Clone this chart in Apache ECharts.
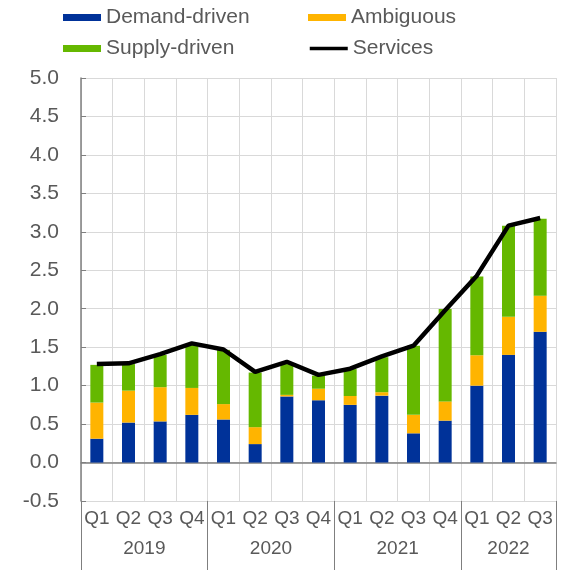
<!DOCTYPE html>
<html>
<head>
<meta charset="utf-8">
<script src="https://cdn.jsdelivr.net/npm/echarts@6/dist/echarts.min.js"></script>
<style>
  html, body { margin: 0; padding: 0; background: #fff; }
  #main { width: 568px; height: 570px; }
</style>
</head>
<body>
<div id="main"></div>
<script>
// quarters and years on the x axis
const quarters = ["Q1", "Q2", "Q3", "Q4", "Q1", "Q2", "Q3", "Q4", "Q1", "Q2", "Q3", "Q4", "Q1", "Q2", "Q3"];
const years = ["2019", "2020", "2021", "2022"];
const quartersPerYear = [4, 4, 4, 3];

// contributions (percentage points)
const demand = [0.31, 0.52, 0.535, 0.62, 0.56, 0.24, 0.86, 0.81, 0.75, 0.87, 0.38, 0.545, 1.0, 1.4, 1.7];
const ambiguous = [0.47, 0.415, 0.445, 0.35, 0.2, 0.22, 0.02, 0.15, 0.115, 0.045, 0.24, 0.25, 0.395, 0.495, 0.47];
const supply = [0.49, 0.345, 0.42, 0.56, 0.705, 0.71, 0.4, 0.17, 0.35, 0.455, 0.9, 1.2, 1.025, 1.185, 1.0];
const services = [1.28, 1.29, 1.41, 1.55, 1.47, 1.18, 1.31, 1.14, 1.22, 1.38, 1.52, 1.98, 2.43, 3.08, 3.18];

// year boundaries and label centres, in quarter units
let yearEdges = [0];
let yearMids = [];
quartersPerYear.forEach((n) => {
  let start = yearEdges[yearEdges.length - 1];
  yearMids.push(start + n / 2);
  yearEdges.push(start + n);
});

const axisGrey = "#7f7f7f";
const textGrey = "#595959";
const gridGrey = "#d9d9d9";
const font = "Liberation Sans, Arial, sans-serif";

let chart = echarts.init(document.getElementById("main"));
let option = {
  animation: false,
  textStyle: { fontFamily: font },
  legend: {
    left: 58,
    top: 2,
    width: 500,
    itemWidth: 38,
    itemHeight: 7,
    itemGap: 10,
    textStyle: { fontSize: 21, color: textGrey, width: 192, lineHeight: 21, fontFamily: font },
    data: [
      { name: "Demand-driven", icon: "rect" },
      { name: "Ambiguous", icon: "rect" },
      { name: "Supply-driven", icon: "rect" },
      { name: "Services", itemStyle: { opacity: 0 }, lineStyle: { width: 3.5, color: "#000" } },
    ],
  },
  grid: { left: 81, right: 12, top: 78, bottom: 69 },
  xAxis: [
    {
      // zero line with short ticks and the vertical grid
      type: "category",
      data: quarters,
      axisLine: { onZero: true, lineStyle: { color: axisGrey, width: 1.5 } },
      axisTick: { length: 6, interval: 0, lineStyle: { color: axisGrey } },
      axisLabel: { show: false },
      splitLine: { show: true, interval: 0, lineStyle: { color: gridGrey } },
    },
    {
      // quarter labels
      type: "category",
      data: quarters,
      position: "bottom",
      axisLine: { show: false, onZero: false },
      axisTick: { length: 37, interval: 0, lineStyle: { color: axisGrey } },
      axisLabel: { interval: 0, fontSize: 19, color: textGrey, margin: 8, fontFamily: font },
      splitLine: { show: false },
    },
    {
      // year labels
      type: "value",
      min: 0,
      max: quarters.length,
      position: "bottom",
      axisLine: { show: false, onZero: false },
      axisTick: { length: 69, customValues: yearEdges, lineStyle: { color: axisGrey } },
      axisLabel: {
        customValues: yearMids,
        fontSize: 19,
        color: textGrey,
        margin: 38,
        fontFamily: font,
        formatter: (v) => years[yearMids.indexOf(v)],
      },
      splitLine: { show: false },
    },
  ],
  yAxis: {
    type: "value",
    min: -0.5,
    max: 5,
    interval: 0.5,
    axisLine: { show: true, lineStyle: { color: axisGrey, width: 1.5 } },
    axisTick: { show: true, inside: true, length: 5, lineStyle: { color: axisGrey } },
    axisLabel: { fontSize: 21, color: textGrey, margin: 22, fontFamily: font, formatter: (v) => v.toFixed(1) },
    splitLine: { lineStyle: { color: gridGrey } },
  },
  series: [
    { name: "Demand-driven", type: "bar", stack: "s", barWidth: 13, itemStyle: { color: "#003299" }, data: demand },
    { name: "Ambiguous", type: "bar", stack: "s", barWidth: 13, itemStyle: { color: "#ffb400" }, data: ambiguous },
    { name: "Supply-driven", type: "bar", stack: "s", barWidth: 13, itemStyle: { color: "#65b800" }, data: supply },
    {
      name: "Services",
      type: "line",
      symbol: "none",
      z: 5,
      lineStyle: { color: "#000", width: 4.5 },
      itemStyle: { color: "#000" },
      data: services,
    },
  ],
};
chart.setOption(option);
</script>
</body>
</html>
